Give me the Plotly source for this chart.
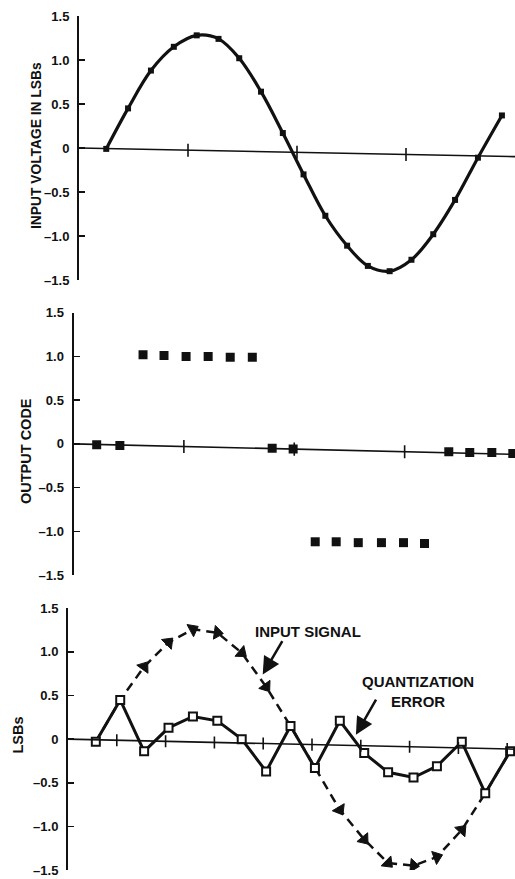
import plotly.graph_objects as go

# ---------------- data ----------------
# Panel 1: input voltage samples (LSBs)
t_top = [0.25, 0.45, 0.66, 0.87, 1.08, 1.28, 1.47, 1.67, 1.87, 2.06,
         2.26, 2.46, 2.65, 2.85, 3.05, 3.25, 3.45, 3.66, 3.88]
v_in = [-0.01, 0.45, 0.88, 1.15, 1.28, 1.24, 1.02, 0.64, 0.17, -0.30,
        -0.77, -1.11, -1.34, -1.40, -1.27, -0.98, -0.59, -0.11, 0.37]

# Panel 2: output code
t_mid = [0.21, 0.42, 0.63, 0.82, 1.02, 1.22, 1.42, 1.62, 1.80, 1.99,
         2.19, 2.38, 2.58, 2.79, 2.99, 3.18, 3.40, 3.59, 3.79, 3.98]
code = [-0.01, -0.02, 1.02, 1.01, 1.00, 1.00, 0.99, 0.99, -0.05, -0.06,
        -1.12, -1.12, -1.13, -1.13, -1.13, -1.14, -0.09, -0.10, -0.10, -0.11]

# Panel 3: input signal and quantization error (LSBs)
t_bot = [0.57, 1.07, 1.56, 2.06, 2.56, 3.06, 3.56, 4.06, 4.56, 5.06,
         5.57, 6.07, 6.56, 7.08, 7.56, 8.07, 8.55, 9.06]
sig = [-0.03, 0.45, 0.83, 1.11, 1.26, 1.22, 0.99, 0.60, 0.15, -0.33,
       -0.81, -1.15, -1.42, -1.45, -1.35, -1.04, -0.62, -0.14]
err = [-0.03, 0.45, -0.14, 0.13, 0.26, 0.21, 0.00, -0.37, 0.15, -0.33,
       0.21, -0.16, -0.38, -0.44, -0.31, -0.03, -0.62, -0.14]
sig_marked = [0, 0, 1, 1, 1, 1, 1, 1, 0, 0, 1, 1, 1, 1, 1, 1, 0, 0]

y_ticks = [1.5, 1.0, 0.5, 0, -0.5, -1.0, -1.5]
y_ticktext = ["1.5", "1.0", "0.5", "0", "\u20130.5", "\u20131.0", "\u20131.5"]

x_ticks_top = [1, 2, 3]
x_ticks_bot = [1, 2, 3, 4, 5, 6, 7, 8, 9]

# ---------------- layout geometry ----------------
W, H = 515, 879
FONT = "Liberation Sans, Arial, Helvetica, sans-serif"
BLACK = "#111111"

panels = [
    dict(xl=79.0, yt=16.0, yb=280.0, xmax=4.0, drop=0.098, th=0.074, ticks=x_ticks_top),
    dict(xl=73.5, yt=312.7, yb=575.0, xmax=4.0, drop=0.12, th=0.075, ticks=x_ticks_top),
    dict(xl=68.0, yt=608.3, yb=870.0, xmax=9.16, drop=0.115, th=0.069, ticks=x_ticks_bot),
]

fig = go.Figure()

# Panel 1: smooth input curve
fig.add_trace(go.Scatter(
    x=t_top, y=v_in, mode="lines+markers", xaxis="x", yaxis="y",
    line=dict(color=BLACK, width=3.2, shape="spline"),
    marker=dict(symbol="square", size=6, color=BLACK),
    showlegend=False))

# Panel 2: output code points
fig.add_trace(go.Scatter(
    x=t_mid, y=code, mode="markers", xaxis="x2", yaxis="y2",
    marker=dict(symbol="square", size=9, color=BLACK),
    showlegend=False))

# Panel 3: input signal (dashed with arrow-like triangles)
fig.add_trace(go.Scatter(
    x=t_bot, y=sig, mode="lines+markers", xaxis="x3", yaxis="y3",
    line=dict(color=BLACK, width=2.5, dash="9px,6px"),
    marker=dict(symbol="triangle-up", size=[12 if m else 0 for m in sig_marked],
                color=BLACK, opacity=1, angleref="previous",
                line=dict(width=1, color=BLACK)),
    showlegend=False))

# Panel 3: quantization error
fig.add_trace(go.Scatter(
    x=t_bot, y=err, mode="lines+markers", xaxis="x3", yaxis="y3",
    line=dict(color=BLACK, width=3),
    marker=dict(symbol="square", size=8, color="white",
                line=dict(color=BLACK, width=2)),
    showlegend=False))

shapes = []
layout_axes = {}
for i, p in enumerate(panels, start=1):
    sx = "" if i == 1 else str(i)
    xd = [p["xl"] / W, 1.0]
    yd = [1 - p["yb"] / H, 1 - p["yt"] / H]
    layout_axes["xaxis" + sx] = dict(domain=xd, range=[0, p["xmax"]], visible=False,
                                     anchor="y" + sx, fixedrange=True, automargin=False)
    layout_axes["yaxis" + sx] = dict(
        domain=yd, range=[-1.5, 1.5], anchor="x" + sx, automargin=False,
        tickmode="array", tickvals=y_ticks, ticktext=y_ticktext,
        ticks="inside", ticklen=6, tickwidth=1.5, tickcolor=BLACK,
        showline=True, linewidth=2, linecolor=BLACK,
        showgrid=False, zeroline=False, ticklabelstandoff=5,
        tickfont=dict(family=FONT, size=13, color=BLACK, weight="bold"))
    # slightly tilted baseline (as scanned)
    shapes.append(dict(type="line", xref="x" + sx, yref="y" + sx,
                       x0=0, y0=0, x1=p["xmax"], y1=-p["drop"],
                       line=dict(color=BLACK, width=1.6)))
    for k in p["ticks"]:
        yc = -p["drop"] * k / p["xmax"]
        shapes.append(dict(type="line", xref="x" + sx, yref="y" + sx,
                           x0=k, x1=k, y0=yc - p["th"], y1=yc + p["th"],
                           line=dict(color=BLACK, width=1.6)))

annotations = [
    dict(text="INPUT VOLTAGE IN LSBs", xref="paper", yref="paper",
         x=37 / W, y=1 - 145 / H, textangle=-90, showarrow=False,
         xanchor="center", yanchor="middle",
         font=dict(family=FONT, size=13.8, color=BLACK, weight="bold")),
    dict(text="OUTPUT CODE", xref="paper", yref="paper",
         x=26 / W, y=1 - 451 / H, textangle=-90, showarrow=False,
         xanchor="center", yanchor="middle",
         font=dict(family=FONT, size=14.5, color=BLACK, weight="bold")),
    dict(text="LSBs", xref="paper", yref="paper",
         x=17.5 / W, y=1 - 735 / H, textangle=-90, showarrow=False,
         xanchor="center", yanchor="middle",
         font=dict(family=FONT, size=14.5, color=BLACK, weight="bold")),
    dict(text="INPUT SIGNAL", xref="paper", yref="paper",
         x=308 / W, y=1 - 631 / H, showarrow=False,
         xanchor="center", yanchor="middle",
         font=dict(family=FONT, size=15, color=BLACK, weight="bold")),
    dict(text="QUANTIZATION<br>ERROR", xref="paper", yref="paper",
         x=417.5 / W, y=1 - 691.5 / H, showarrow=False,
         xanchor="center", yanchor="middle",
         font=dict(family=FONT, size=15, color=BLACK, weight="bold")),
    # arrows
    dict(text="", xref="x3", yref="y3", axref="x3", ayref="y3",
         x=3.99, y=0.74, ax=4.41, ay=1.14, showarrow=True,
         arrowhead=2, arrowsize=1.4, arrowwidth=2.5, arrowcolor=BLACK),
    dict(text="", xref="x3", yref="y3", axref="x3", ayref="y3",
         x=5.90, y=0.05, ax=6.33, ay=0.47, showarrow=True,
         arrowhead=2, arrowsize=1.4, arrowwidth=2.5, arrowcolor=BLACK),
]

fig.update_layout(
    width=W, height=H,
    margin=dict(l=0, r=0, t=0, b=0, autoexpand=False),
    paper_bgcolor="white", plot_bgcolor="white",
    showlegend=False,
    shapes=shapes, annotations=annotations,
    **layout_axes)

fig.write_html(
    "out.html",
    config={"displayModeBar": False, "staticPlot": True},
    post_script=("document.body.style.margin='0';"
                 "document.body.style.padding='0';"
                 "document.documentElement.style.overflow='hidden';"))
